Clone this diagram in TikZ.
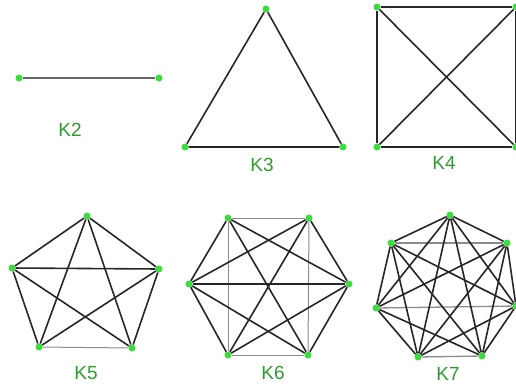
\documentclass[tikz,border=0pt]{standalone}
\usepackage{fontspec}
\setmainfont{Liberation Sans}
\begin{document}
\begin{tikzpicture}[x=1pt,y=-1pt,
  vtx/.style={circle,fill=dotgreen,inner sep=0pt,minimum size=7pt},
  lbl/.style={text=lblgreen,font=\fontsize{19}{19}\selectfont,inner sep=0pt},
  edge/.style={draw=black!85,line width=1.6pt},
  ledge/.style={draw=black!45,line width=1pt}]
\definecolor{dotgreen}{HTML}{3CDC3C}
\definecolor{lblgreen}{HTML}{2E9B2E}
\useasboundingbox (0,0) rectangle (516,386);
% K2
\node[vtx] (a1) at (19,78) {};
\node[vtx] (a2) at (159,78) {};
\draw[ledge,draw=black!60,line width=1.3pt] (a1) -- (a2);
\node[lbl] (k2) at (70,130) {K2};
% K3
\node[vtx] (b1) at (266,9) {};
\node[vtx] (b2) at (185,147) {};
\node[vtx] (b3) at (343,147) {};
\draw[edge] (b1) -- (b2) (b2) -- (b3) (b3) -- (b1);
\node[lbl] (k3) at (262,165) {K3};
% K4
\node[vtx] (c1) at (377,7) {};
\node[vtx] (c2) at (516,7) {};
\node[vtx] (c3) at (516,147) {};
\node[vtx] (c4) at (377,147) {};
\foreach \i/\j in {1/2,2/3,3/4,4/1,1/3,2/4} \draw[edge] (c\i) -- (c\j);
\node[lbl] (k4) at (444,163) {K4};
% K5
\node[vtx] (d1) at (87,216) {};
\node[vtx] (d2) at (159,269) {};
\node[vtx] (d3) at (132,348) {};
\node[vtx] (d4) at (39,347) {};
\node[vtx] (d5) at (12,268) {};
\foreach \i/\j in {1/2,2/3,4/5,5/1,1/3,1/4,2/4,2/5,3/5} \draw[edge] (d\i) -- (d\j);
\draw[ledge] (d3) -- (d4);
\node[lbl] (k5) at (86,373) {K5};
% K6
\node[vtx] (e1) at (228,218) {};
\node[vtx] (e2) at (309,218) {};
\node[vtx] (e3) at (349,284) {};
\node[vtx] (e4) at (308,355) {};
\node[vtx] (e5) at (228,355) {};
\node[vtx] (e6) at (189,284) {};
\foreach \i/\j in {1/2,1/5,2/4,4/5} \draw[ledge] (e\i) -- (e\j);
\foreach \i/\j in {2/3,3/4,5/6,6/1,1/3,1/4,2/5,2/6,3/5,3/6,4/6} \draw[edge] (e\i) -- (e\j);
\node[lbl] (k6) at (273,373) {K6};
% K7
\node[vtx] (f1) at (450,215) {};
\node[vtx] (f2) at (507,243) {};
\node[vtx] (f3) at (516,306) {};
\node[vtx] (f4) at (482,356) {};
\node[vtx] (f5) at (418,357) {};
\node[vtx] (f6) at (376,308) {};
\node[vtx] (f7) at (391,243) {};
\foreach \i/\j in {2/7,3/6,4/5} \draw[ledge,line width=1.3pt] (f\i) -- (f\j);
\foreach \i/\j in {1/2,1/3,1/4,1/5,1/6,1/7,2/3,2/4,2/5,2/6,3/4,3/5,3/7,4/6,4/7,5/6,5/7,6/7} \draw[edge] (f\i) -- (f\j);
\node[lbl] (k7) at (448,374) {K7};
\end{tikzpicture}
\end{document}
